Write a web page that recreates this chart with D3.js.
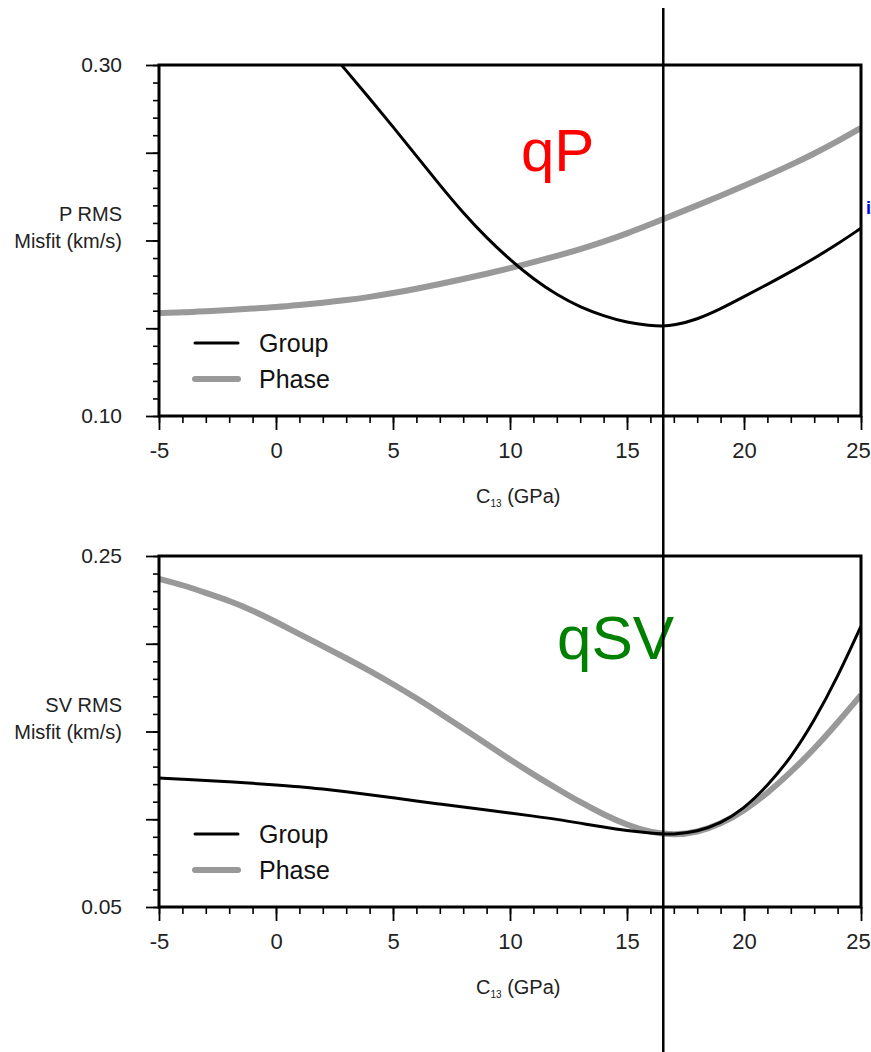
<!DOCTYPE html>
<html>
<head>
<meta charset="utf-8">
<script src="https://cdn.jsdelivr.net/npm/d3@7"></script>
<style>
  body { margin: 0; background: #fff; }
  svg { display: block; font-family: "Liberation Sans", Arial, sans-serif; }
</style>
</head>
<body>
<div id="chart"></div>
<script>
// C13 values (GPa) along the x axis
var xTickValues = [-5, 0, 5, 10, 15, 20, 25]
var xMinorValues = [-5, -4, -3, -2, -1, 0, 1, 2, 3, 4, 5, 6, 7, 8, 9, 10, 11, 12, 13, 14, 15, 16, 17, 18, 19, 20, 21, 22, 23, 24, 25]
var markerC13 = 16.55

// qP panel
var pGroupX = [2, 3, 4, 5, 6, 7, 8, 9, 10, 11, 12, 13, 14, 15, 16, 16.5, 17, 18, 19, 20, 21, 22, 23, 24, 25]
var pGroupY = [0.3125, 0.2968, 0.2810, 0.2648, 0.2482, 0.2316, 0.2157, 0.2015, 0.1890, 0.1780, 0.1690, 0.1620, 0.1570, 0.1532, 0.1515, 0.1512, 0.1516, 0.1550, 0.1610, 0.1680, 0.1750, 0.1822, 0.1898, 0.1980, 0.2070]
var pPhaseX = [-5, -4, -3, -2, -1, 0, 1, 2, 3, 4, 5, 6, 7, 8, 9, 10, 11, 12, 13, 14, 15, 16, 17, 18, 19, 20, 21, 22, 23, 24, 25]
var pPhaseY = [0.1587, 0.159, 0.1597, 0.1604, 0.1612, 0.162, 0.1632, 0.1645, 0.166, 0.1678, 0.1700, 0.1725, 0.1752, 0.1780, 0.1810, 0.1842, 0.1876, 0.1912, 0.1950, 0.1993, 0.2040, 0.2092, 0.2146, 0.2200, 0.2255, 0.2312, 0.2370, 0.2430, 0.2495, 0.2565, 0.2641]
var pYDomain = [0.10, 0.30]
var pYLabels = [0.10, 0.30]

// qSV panel
var svX = [-5, -4, -3, -2, -1, 0, 1, 2, 3, 4, 5, 6, 7, 8, 9, 10, 11, 12, 13, 14, 15, 16, 17, 18, 19, 20, 21, 22, 23, 24, 25]
var svGroupY = [0.1235, 0.1228, 0.1221, 0.1213, 0.1205, 0.1196, 0.1186, 0.1172, 0.1157, 0.1140, 0.1122, 0.1104, 0.1087, 0.1070, 0.1052, 0.1035, 0.1018, 0.1000, 0.0978, 0.0955, 0.0935, 0.0921, 0.0912, 0.0930, 0.0975, 0.1060, 0.1190, 0.1350, 0.1560, 0.1810, 0.2100]
var svPhaseY = [0.2370, 0.2335, 0.2290, 0.2245, 0.2190, 0.2125, 0.2055, 0.1987, 0.1918, 0.1846, 0.1770, 0.1690, 0.1605, 0.1517, 0.1428, 0.1340, 0.1255, 0.1175, 0.1097, 0.1027, 0.0967, 0.0925, 0.0910, 0.0925, 0.0972, 0.1048, 0.1148, 0.1268, 0.1400, 0.1550, 0.1708]
var svYDomain = [0.05, 0.25]
var svYLabels = [0.05, 0.25]

var yMinorStep = 0.01
var seriesNames = ["Group", "Phase"]
var seriesColors = ["#000000", "#999999"]
var seriesWidths = [3, 6]

var width = 871, height = 1052
var left = 159, right = 861

var svg = d3.select("#chart").append("svg").attr("width", width).attr("height", height)

var x = d3.scaleLinear().domain([-5, 25]).range([left, right])

function range(a, b, step) {
  var out = []
  for (var i = 0; a + i * step <= b + 1e-9; i++) out.push(+(a + i * step).toFixed(4))
  return out
}

function drawPanel(top, yDomain, yLabels, series, title, titleColor, titleX, titleY, titleSize, yTitle) {
  var bottom = top + 351
  var y = d3.scaleLinear().domain(yDomain).range([bottom, top])
  var g = svg.append("g")

  var clipId = "clip" + top
  g.append("clipPath").attr("id", clipId)
    .append("rect").attr("x", left).attr("y", top).attr("width", right - left).attr("height", bottom - top)

  // y minor + major ticks
  var yMinor = range(yDomain[0], yDomain[1], yMinorStep)
  var yMajor = range(yDomain[0], yDomain[1], 0.05)
  g.append("g").attr("transform", "translate(" + left + ",0)")
    .call(d3.axisLeft(y).tickValues(yMinor).tickSize(6).tickFormat(""))
    .call(function(s) { s.select(".domain").remove() })
    .selectAll("line").attr("stroke-width", 1.6)
  g.append("g").attr("transform", "translate(" + left + ",0)")
    .call(d3.axisLeft(y).tickValues(yMajor).tickSize(13).tickPadding(24)
      .tickFormat(function(d) { return yLabels.indexOf(d) >= 0 ? d3.format(".2f")(d) : "" }))
    .call(function(s) { s.select(".domain").remove() })
    .call(function(s) {
      s.selectAll("line").attr("stroke-width", 1.8)
      s.selectAll("text").attr("font-size", 21).attr("fill", "#222").attr("font-family", null)
    })

  // x minor + major ticks
  g.append("g").attr("transform", "translate(0," + bottom + ")")
    .call(d3.axisBottom(x).tickValues(xMinorValues).tickSize(7).tickFormat(""))
    .call(function(s) { s.select(".domain").remove() })
    .selectAll("line").attr("stroke-width", 1.6)
  g.append("g").attr("transform", "translate(0," + bottom + ")")
    .call(d3.axisBottom(x).tickValues(xTickValues).tickSize(14).tickPadding(12).tickFormat(function(d) { return String(d) }))
    .call(function(s) { s.select(".domain").remove() })
    .call(function(s) {
      s.selectAll("line").attr("stroke-width", 1.8)
      s.selectAll("text").attr("font-size", 22).attr("fill", "#222").attr("font-family", null)
        .attr("dx", function(d) { return d === 25 ? -3 : 0 })
    })

  // curves
  var line = d3.line().curve(d3.curveBasis)
    .x(function(d) { return x(d[0]) })
    .y(function(d) { return y(d[1]) })
  series.slice().reverse().forEach(function(s) {
    g.append("path")
      .attr("clip-path", "url(#" + clipId + ")")
      .attr("d", line(d3.zip(s.x, s.y)))
      .attr("fill", "none")
      .attr("stroke", s.color)
      .attr("stroke-width", s.width)
      .attr("stroke-linejoin", "round")
  })

  // frame
  g.append("rect")
    .attr("x", left).attr("y", top).attr("width", right - left).attr("height", bottom - top)
    .attr("fill", "none").attr("stroke", "#000").attr("stroke-width", 3)

  // legend
  seriesNames.forEach(function(name, i) {
    var ly = bottom - 73 + i * 36
    g.append("line").attr("x1", 195).attr("x2", 238).attr("y1", ly).attr("y2", ly)
      .attr("stroke", seriesColors[i]).attr("stroke-width", seriesWidths[i]).attr("stroke-linecap", "round")
    g.append("text").attr("x", 259).attr("y", ly + 9)
      .attr("font-size", 25).attr("fill", "#111").text(name)
  })

  // y title
  g.append("text").attr("x", 122).attr("y", (top + bottom) / 2 - 20)
    .attr("text-anchor", "end").attr("font-size", 20).attr("fill", "#222").text(yTitle)
  g.append("text").attr("x", 122).attr("y", (top + bottom) / 2 + 7)
    .attr("text-anchor", "end").attr("font-size", 20).attr("fill", "#222").text("Misfit (km/s)")

  // x title
  var xt = g.append("text").attr("x", 476).attr("y", bottom + 87)
    .attr("font-size", 20).attr("fill", "#222")
  xt.append("tspan").text("C")
  xt.append("tspan").attr("font-size", 10).attr("dy", 4).text("13")
  xt.append("tspan").attr("dy", -4).text(" (GPa)")

  // panel label
  g.append("text").attr("x", titleX).attr("y", titleY)
    .attr("font-size", titleSize).attr("fill", titleColor).text(title)
}

drawPanel(65, pYDomain, pYLabels,
  [{x: pGroupX, y: pGroupY, color: seriesColors[0], width: seriesWidths[0]},
   {x: pPhaseX, y: pPhaseY, color: seriesColors[1], width: seriesWidths[1]}],
  "qP", "#ff0000", 521, 171, 60, "P RMS")

drawPanel(556, svYDomain, svYLabels,
  [{x: svX, y: svGroupY, color: seriesColors[0], width: seriesWidths[0]},
   {x: svX, y: svPhaseY, color: seriesColors[1], width: seriesWidths[1]}],
  "qSV", "#008000", 557, 659, 62, "SV RMS")

// marker line through both panels
svg.append("line")
  .attr("x1", x(markerC13)).attr("x2", x(markerC13))
  .attr("y1", 8).attr("y2", height)
  .attr("stroke", "#000").attr("stroke-width", 2.5)

// small blue glyph at the right edge
svg.append("text").attr("x", 866).attr("y", 214).attr("font-size", 18).attr("font-weight", "bold")
  .attr("fill", "#0000ee").text("i")
</script>
</body>
</html>
